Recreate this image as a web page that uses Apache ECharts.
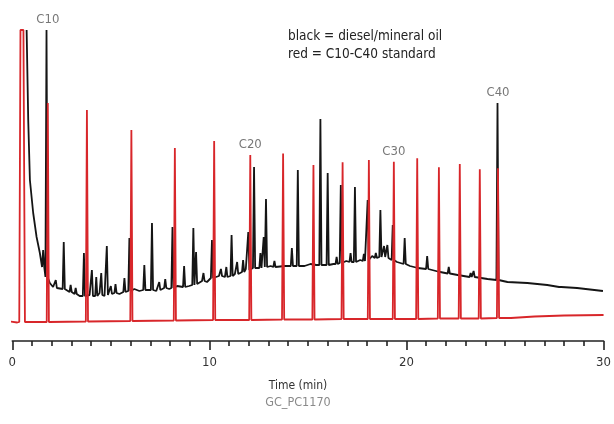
<!DOCTYPE html>
<html>
<head>
<meta charset="utf-8">
<script src="https://cdn.jsdelivr.net/npm/echarts@6/dist/echarts.min.js"></script>
<style>
html,body{margin:0;padding:0;background:#fff;}
#chart{width:614px;height:424px;}
</style>
</head>
<body>
<div id="chart"></div>
<script>
// ---- Red: C10-C40 standard (time in min, signal in arbitrary units) ----
const redPeakNames = ['C10','C12','C14','C16','C18','C20','C22','C24','C26','C28','C30','C32','C34','C36','C38','C40'];
const redPeakTime  = [1.802,3.786,6.042,8.248,10.242,12.075,13.740,15.280,16.759,18.092,19.359,20.545,21.645,22.705,23.720,24.644];
const redPeakHeight= [219,212,192,174,181,167,168.5,157,159.7,162,160.3,163.7,154.7,158,152.7,153.7];
const redPeakBase  = [0,0.5,1,1.5,2,2,2.5,2.5,3,3,3,3,3.5,3.5,3.5,4];
// solvent peak (saturated, flat top)
const redSolvent   = [[0.353,0],[0.414,292],[0.565,292],[0.641,0]];
// baseline points
const redBaseTime  = [-0.1,0.25,0.75,25.3,26.5,28.0,30.0];
const redBaseValue = [0.5,-0.5,0,4,5.5,6.5,7];

// ---- Black: diesel / mineral oil ----
const blackBaseTime  = [0.727,0.808,0.893,1.060,1.232,1.398,1.903,2.070,2.307,2.746,2.912,3.165,3.417,3.922,4.174,4.427,4.679,4.932,5.184,5.437,5.841,6.194,6.447,6.851,7.305,7.709,7.962,8.366,8.971,9.627,9.879,10.485,10.788,11.293,11.848,12.403,13.110,13.413,13.817,14.826,15.129,15.432,16.290,16.946,17.653,18.259,18.561,19.520,20.176,20.580,21.590,22.600,24.114,25.124,26.133,27.143,28.657,29.970];
const blackBaseValue = [292,202,142,109,85,69,39,35,33,32,30,28,26,27,25,29,26,28,30,28,30,33,31,33,31,35,33,36,36,41,40,46,45,48,53,55,56,54,56,56,58,57,58,61,62,66,64,60,56,54,50.5,47,43,40,39,37,34,31];
const blackSpikeTime  = [1.736,1.565,2.206,2.610,2.960,3.215,3.634,4.038,4.260,4.513,4.796,5.000,5.236,5.689,5.941,6.699,7.087,7.456,7.760,8.127,8.718,9.187,9.324,9.700,10.131,10.586,10.860,11.126,11.408,11.711,11.974,12.266,12.589,12.756,12.872,13.300,14.185,14.487,15.633,16.002,16.456,16.668,17.163,17.385,17.839,18.031,18.445,18.677,18.864,19.031,19.303,19.909,21.050,22.145,23.255,23.407,24.619,27.799];
const blackSpikeHeight= [292,72,42,80,37,34,69,52,45,49,76,36,38,44,84,57,99,40,43,95,56,94,70,49,82,53,55,87,60,62,90,155,69,85,123,61,74,152,203,149,65,137,69,135,68,122,69,112,76,77,97,84,66,55,49,51,219,36];
const blackSpikeBase  = [45,55,34,33,30,28,26,26,26,27,27,28,29,30,31,32,32,32,34,34,35,37,38,41,44,46,45,46,48,50,52,54,54,55,55,55,56,56,57,57,58,59,60,60,61,62,64,65,65,64,62,58,53,48.5,45,45,42,35];

// ---- Labels / axis ----
const peakLabels = ['C10','C20','C30','C40'];
const xTicks = [0,10,20,30];

const W = 0.055; // half width of a peak (style)
function buildRed(){
  const pts = [];
  redBaseTime.forEach((t,i)=>pts.push([t,redBaseValue[i]]));
  redSolvent.forEach(p=>pts.push(p.slice()));
  redPeakTime.forEach((t,i)=>{
    pts.push([t-W,redPeakBase[i]]);
    pts.push([t,redPeakHeight[i]]);
    pts.push([t+W,redPeakBase[i]]);
  });
  pts.sort((a,b)=>a[0]-b[0]);
  return pts;
}
function buildBlack(){
  const pts = [];
  blackBaseTime.forEach((t,i)=>pts.push([t,blackBaseValue[i]]));
  blackSpikeTime.forEach((t,i)=>{
    pts.push([t-W,blackSpikeBase[i]]);
    pts.push([t,blackSpikeHeight[i]]);
    pts.push([t+W,blackSpikeBase[i]]);
  });
  pts.sort((a,b)=>a[0]-b[0]);
  return pts;
}
function labelPoints(){
  return peakLabels.map(name=>{
    const i = redPeakNames.indexOf(name);
    const t = redPeakTime[i];
    let h = redPeakHeight[i];
    blackSpikeTime.forEach((bt,j)=>{ if (Math.abs(bt-t)<0.1) h = Math.max(h, blackSpikeHeight[j]); });
    return {name, value:[t,h]};
  });
}

const FONT = '"DejaVu Sans Condensed","Liberation Sans Narrow",sans-serif';
const chart = echarts.init(document.getElementById('chart'), null, {renderer:'canvas'});
chart.setOption({
  animation:false,
  backgroundColor:'#fff',
  grid:{left:12.3,right:7.3,top:30,bottom:83,containLabel:false},
  xAxis:{
    type:'value', min:xTicks[0], max:xTicks[xTicks.length-1], interval:10,
    axisLine:{show:true,onZero:false,lineStyle:{color:'#222',width:1.6}},
    axisTick:{show:true,inside:false,length:9,lineStyle:{color:'#222',width:1.6}},
    minorTick:{show:true,splitNumber:10,length:5,lineStyle:{color:'#222',width:1.6}},
    splitLine:{show:false}, minorSplitLine:{show:false},
    axisLabel:{margin:15,fontSize:13,color:'#333',fontFamily:FONT}
  },
  yAxis:{type:'value',min:-19,max:292,show:false,splitLine:{show:false}},
  series:[
    {type:'line',name:'black',data:buildBlack(),showSymbol:false,symbol:'none',
     lineStyle:{color:'#151515',width:1.8},z:2,clip:true},
    {type:'line',name:'red',data:buildRed(),showSymbol:false,symbol:'none',
     lineStyle:{color:'#d8262a',width:1.8},z:3,clip:true},
    {type:'scatter',data:labelPoints(),symbolSize:0,silent:true,z:4,
     label:{show:true,position:'top',distance:4,formatter:'{b}',fontSize:13,color:'#555',fontFamily:FONT}}
  ],
  graphic:[
    {type:'text',x:288,y:36,style:{text:'black = diesel/mineral oil',fill:'#222',font:'13.5px '+FONT,align:'left',verticalAlign:'middle'}},
    {type:'text',x:288,y:54,style:{text:'red = C10-C40 standard',fill:'#222',font:'13.5px '+FONT,align:'left',verticalAlign:'middle'}},
    {type:'text',x:298,y:386,style:{text:'Time (min)',fill:'#333',font:'12px '+FONT,align:'center',verticalAlign:'middle'}},
    {type:'text',x:298,y:403,style:{text:'GC_PC1170',fill:'#8a8a8a',font:'12.5px '+FONT,align:'center',verticalAlign:'middle'}}
  ]
});
</script>
</body>
</html>
